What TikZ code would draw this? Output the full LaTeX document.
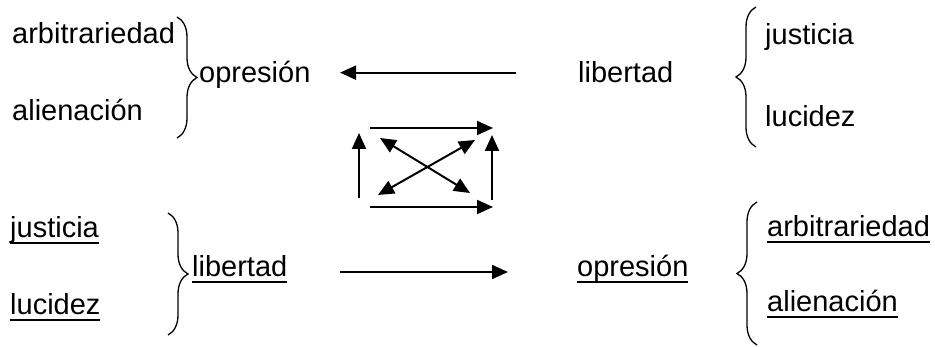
\documentclass[tikz,border=0pt]{standalone}
\usepackage{fontspec}
\setmainfont{Liberation Sans}
\usetikzlibrary{arrows.meta,decorations.pathreplacing,calc}
\newcommand{\ulx}[1]{\setbox0\hbox{#1}\rlap{\rule[-6pt]{\wd0}{2.2pt}}\box0}
\begin{document}
\begin{tikzpicture}[x=1pt,y=-1pt,
  lbl/.style={inner sep=0pt, anchor=base west, font=\fontsize{29}{34}\selectfont},
  arr/.style={-{Triangle[length=16pt,width=14pt]}, line width=2pt},
  dbl/.style={{Triangle[length=16pt,width=14pt]}-{Triangle[length=16pt,width=14pt]}, line width=2pt},
  br/.style={decorate, decoration={brace, amplitude=20pt}, line width=1.3pt}]
\useasboundingbox (0,0) rectangle (935,347);
% top left group
\node[lbl] (arb1) at (12,44) {arbitrariedad};
\node[lbl] (ali1) at (12,121) {alienación};
\node[lbl] (op1) at (199,83) {opresión};
\draw[br] (177,17) -- (177,138);
% top right group
\node[lbl] (lib1) at (578,83) {libertad};
\node[lbl] (jus1) at (765,45) {justicia};
\node[lbl] (luc1) at (765,127) {lucidez};
\draw[br] (756,147) -- (756,7);
% top arrow
\draw[arr, shorten <=62pt] (lib1.west) -- (lib1.west -| 340,0) coordinate (t1end);
% bottom left group
\node[lbl] (jus2) at (10,238) {\ulx{justicia}};
\node[lbl] (luc2) at (10,315) {\ulx{lucidez}};
\node[lbl] (lib2) at (192,277) {\ulx{libertad}};
\draw[br] (168,213) -- (168,335);
% bottom right group
\node[lbl] (op2) at (577,277) {\ulx{opresión}};
\node[lbl] (arb2) at (767,237) {\ulx{arbitrariedad}};
\node[lbl] (ali2) at (767,312) {\ulx{alienación}};
\draw[br] (757,345) -- (757,202);
% bottom arrow
\coordinate (b1s) at (340,272);
\coordinate (b1e) at (508,272);
\draw[arr] (b1s) -- (b1e);
% central square of arrows
\coordinate (th1) at (370,128); \coordinate (th2) at (493,128);
\coordinate (bh1) at (370,207); \coordinate (bh2) at (493,207);
\coordinate (lv1) at (359,198); \coordinate (lv2) at (359,133);
\coordinate (rv1) at (492,200); \coordinate (rv2) at (492,135);
\coordinate (d1a) at (380,138); \coordinate (d1b) at (470,193);
\coordinate (d2a) at (378,195); \coordinate (d2b) at (475,140);
\draw[arr] (th1) -- (th2);
\draw[arr] (bh1) -- (bh2);
\draw[arr] (lv1) -- (lv2);
\draw[arr] (rv1) -- (rv2);
\draw[dbl] (d1a) -- (d1b);
\draw[dbl] (d2a) -- (d2b);
\end{tikzpicture}
\end{document}
